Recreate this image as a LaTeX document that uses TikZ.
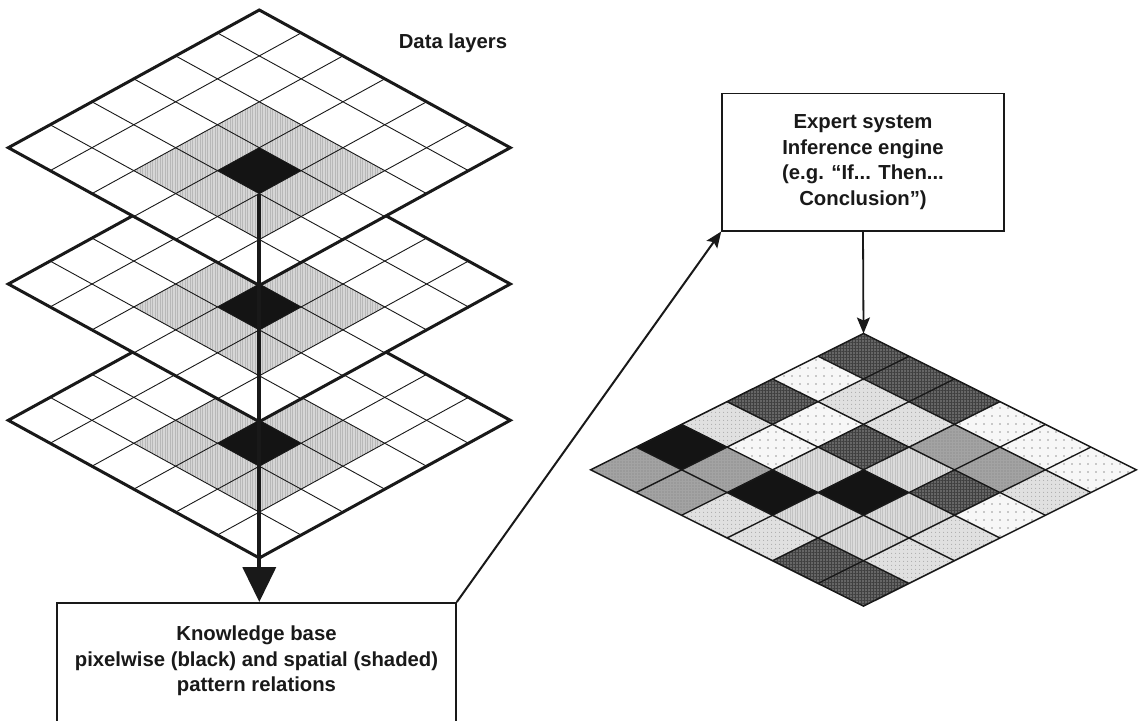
\documentclass[tikz,border=0pt]{standalone}
\usepackage{fontspec}
\setmainfont{Liberation Sans}
\usetikzlibrary{arrows.meta,patterns.meta}
\colorlet{cD}{black!60}
\colorlet{cM}{black!36}
\colorlet{cF}{black!12}
\colorlet{cS}{black!3}
\colorlet{cL}{black!14}
\colorlet{cB}{black!92}
\colorlet{cShade}{black!16}
\begin{document}
\begin{tikzpicture}[x=1pt,y=-1pt,
  lbl/.style={font=\bfseries\fontsize{20.3}{25.5}\selectfont, align=center, inner sep=0pt, text=black!90},
  boxstyle/.style={draw=black!90, line width=1.6pt},
  gridline/.style={line width=0.9pt, draw=black!90},
  layerborder/.style={line width=3pt, line join=miter, draw=black!90},
  rgridline/.style={line width=1.4pt, draw=black!90},
  conn/.style={line width=2pt, draw=black!90, -{Stealth[length=16pt,width=13pt,inset=3pt]}}]
\useasboundingbox (0,0) rectangle (1142,720);
\clip (0,0) rectangle (1142,720);

% ---------- data layers ----------
\foreach \k in {2,1,0}{
  \pgfmathsetmacro\yy{-(10+136.3*\k)}
  \begin{scope}[shift={(259.3pt,\yy pt)}, x={(41.83pt,-22.95pt)}, y={(-41.83pt,-22.95pt)}]
    \fill[white] (0,0) -- (6,0) -- (6,6) -- (0,6) -- cycle;
    \fill[cShade] (2,2) -- (5,2) -- (5,5) -- (2,5) -- cycle;
    \path[pattern={Lines[angle=90,distance=2.5pt,line width=0.5pt]}, pattern color=black!28] (2,2) -- (5,2) -- (5,5) -- (2,5) -- cycle;
    \fill[cB] (3,3) -- (4,3) -- (4,4) -- (3,4) -- cycle;
    \foreach \i in {1,...,5}{
      \draw[gridline] (\i,0) -- (\i,6);
      \draw[gridline] (0,\i) -- (6,\i);
    }
    \draw[layerborder] (0,0) -- (6,0) -- (6,6) -- (0,6) -- cycle;
    \coordinate (blk\k) at (4,4);
  \end{scope}
}

\node[lbl] (dl) at (453,43) {Data layers};

% ---------- boxes ----------
\node[boxstyle, minimum width=399pt, minimum height=160pt, anchor=north, inner sep=0pt] (kb) at (256.5,602) {};
\node[lbl] (kbt) at (256.5,661) {Knowledge base\\pixelwise (black) and spatial (shaded)\\pattern relations};

\node[boxstyle, lbl, minimum width=282pt, minimum height=137.4pt] (ex) at (863,162) {Expert system\\Inference engine\\(e.g. “If... Then...\\Conclusion”)};

% ---------- classified grid ----------
\begin{scope}[shift={(863.5pt,-333.5pt)}, x={(45.48pt,-22.72pt)}, y={(-45.48pt,-22.72pt)}]
  \foreach \u/\v/\c in {0/0/cD, 1/0/cD, 0/1/cS, 2/0/cD, 1/1/cF, 0/2/cD, 3/0/cS, 2/1/cF, 1/2/cS, 0/3/cF,
      4/0/cS, 3/1/cM, 2/2/cD, 1/3/cS, 0/4/cB, 5/0/cS, 4/1/cM, 3/2/cL, 2/3/cL, 1/4/cM, 0/5/cM,
      5/1/cF, 4/2/cD, 3/3/cB, 2/4/cB, 1/5/cM, 5/2/cS, 4/3/cL, 3/4/cL, 2/5/cF,
      5/3/cF, 4/4/cL, 3/5/cF, 5/4/cF, 4/5/cD, 5/5/cD}{
    \fill[fill=\c] (\u,\v) -- ++(1,0) -- ++(0,1) -- ++(-1,0) -- cycle;
  }
  \foreach \u/\v in {0/0, 1/0, 2/0, 0/2, 2/2, 4/2, 4/5, 5/5}{
    \path[pattern={Hatch[angle=0,distance=3pt,line width=0.5pt]}, pattern color=black!75] (\u,\v) -- ++(1,0) -- ++(0,1) -- ++(-1,0) -- cycle;
  }
  \foreach \u/\v in {3/1, 4/1, 1/4, 0/5, 1/5}{
    \path[pattern={Dots[distance=3pt,radius=0.7pt]}, pattern color=black!50] (\u,\v) -- ++(1,0) -- ++(0,1) -- ++(-1,0) -- cycle;
  }
  \foreach \u/\v in {3/2, 2/3, 4/3, 3/4, 4/4}{
    \path[pattern={Lines[angle=90,distance=2.5pt,line width=0.5pt]}, pattern color=black!24] (\u,\v) -- ++(1,0) -- ++(0,1) -- ++(-1,0) -- cycle;
  }
  \foreach \u/\v in {0/1, 3/0, 1/2, 4/0, 1/3, 5/0, 5/2}{
    \path[pattern={Dots[distance=8pt,radius=0.8pt]}, pattern color=black!40] (\u,\v) -- ++(1,0) -- ++(0,1) -- ++(-1,0) -- cycle;
  }
  \foreach \u/\v in {1/1, 2/1, 0/3, 5/1, 2/5, 5/3, 3/5, 5/4}{
    \path[pattern={Dots[distance=4pt,radius=0.6pt]}, pattern color=black!40] (\u,\v) -- ++(1,0) -- ++(0,1) -- ++(-1,0) -- cycle;
  }
  \foreach \i in {1,...,5}{
    \draw[rgridline] (\i,0) -- (\i,6);
    \draw[rgridline] (0,\i) -- (6,\i);
  }
  \draw[rgridline, line width=1.5pt, line join=miter] (0,0) -- (6,0) -- (6,6) -- (0,6) -- cycle;
  \coordinate (rtop) at (0,0);
\end{scope}

% ---------- connectors ----------
\draw[line width=4pt, draw=black!90, -{Triangle[length=35pt,width=33pt]}] (blk0) -- (blk0 |- kb.north);
\draw[conn] (kb.north east) -- (ex.south west);
\draw[conn, line width=1.8pt] (ex.south) -- (rtop);
\end{tikzpicture}
\end{document}
